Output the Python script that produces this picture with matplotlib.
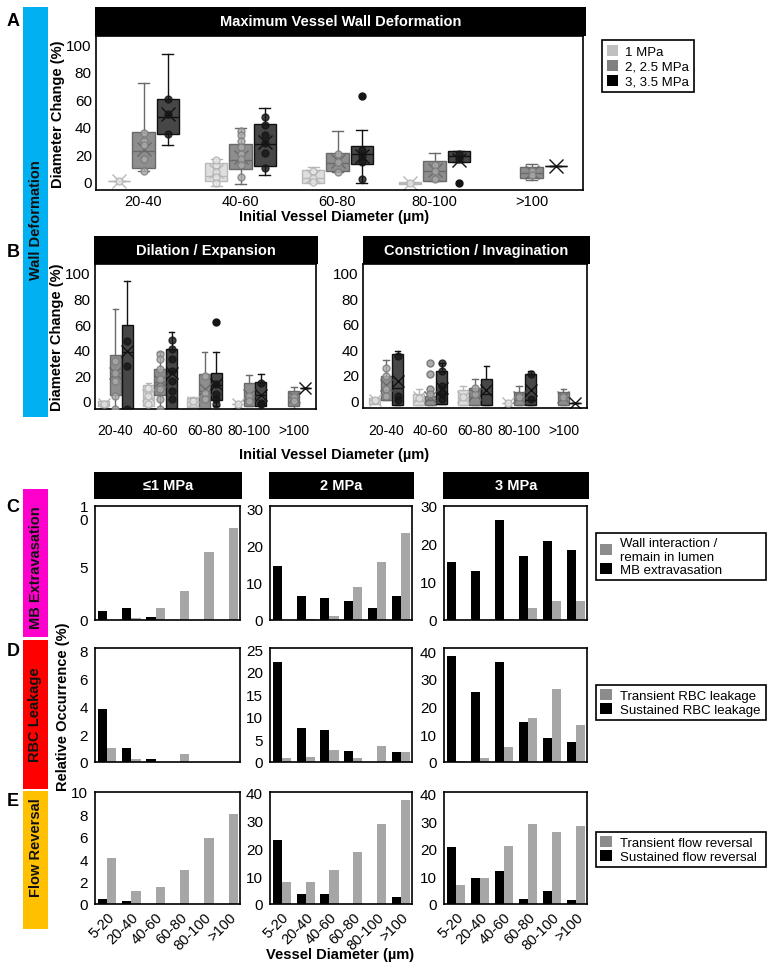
import numpy as np
import matplotlib
matplotlib.use("Agg")
import matplotlib.pyplot as plt
from matplotlib.patches import Patch, Rectangle

plt.rcParams['font.family'] = ['Liberation Sans', 'DejaVu Sans']

W, H = 773, 970
fig = plt.figure(figsize=(W / 100, H / 100), dpi=100)

nan = np.nan
# ---------------- data ----------------
size_groups = ["20-40", "40-60", "60-80", "80-100", ">100"]
pressures = ["1 MPa", "2, 2.5 MPa", "3, 3.5 MPa"]

# Panel A: maximum vessel wall deformation (rows: 1, 2/2.5, 3/3.5 MPa)
a_q1 = [[1, 0.7, -0.7, -1.5, nan], [10.5, 9.5, 8, 0.5, 3], [34.5, 11.5, 13, 14.5, 11.6]]
a_med = [[1, 4, 3, -0.7, nan], [22.4, 16, 14, 8, 6.7], [47, 27.7, 20, 19, 11.6]]
a_q3 = [[1, 13.5, 9, 0, nan], [36.5, 27.5, 21, 15, 10.8], [59.8, 41.7, 26, 22.4, 11.6]]
a_lo = [[1, -3, -0.7, -1.5, nan], [8, -1.7, 7, 0.5, 1.5], [27, 4.8, -1, 14.5, 11.6]]
a_hi = [[1, 16.5, 10.8, 0, nan], [71.5, 39, 37, 21, 12.8], [93, 53.5, 38, 22.4, 11.6]]
a_mean = [[1, 8, 4, -0.7, nan], [24, 18, 15, 9, 7], [49, 29, 19, 16, 11.6]]
a_out = [[[], [], [], [], []], [[], [], [], [], []], [[], [], [62], [-1], []]]
a_pts = [[[1], [12, 7, 3.6, -1, 16], [8, 3, 0], [-1], []],
         [[35.7, 30, 26.5, 17, 8], [37, 33.7, 30, 25, 20, 17, 12, 3.6], [20.5, 14.5, 7], [12, 8, 2.4], [8, 5]],
         [[60, 49, 34.5], [47, 41, 34, 28, 21, 10], [23, 19, 14.5, 2.4], [20, 17], []]]

# Panel B: dilation / expansion
bd_q1 = [[-4, -4, -5, -2, nan], [5, 4.7, -6, -4, -4], [-6, -6, 0.8, -4, 10.4]]
bd_med = [[-2, 2, -1, -2, nan], [21.7, 15, 8, 4, 3], [38, 23.5, 12.5, 5, 10.4]]
bd_q3 = [[0, 12.3, 2, -2, nan], [36, 25.3, 21, 13.8, 7.8], [59.5, 41, 22, 15, 10.4]]
bd_lo = [[-4, -4, -5, -2, nan], [-6, -6, -6, -4, -6], [-6, -6, -4, -6, 10.4]]
bd_hi = [[0, 14.4, 3, -2, nan], [72, 38, 38, 20.4, 11.2], [94, 53.5, 38.6, 21.4, 10.4]]
bd_mean = [[-2, 5, -1, -2, nan], [22, 16, 9, 5, 3], [39, 22, 13, 5, 10.4]]
bd_out = [[[], [], [], [], []], [[], [], [], [], []], [[], [], [62], [], []]]
bd_pts = [[[-2], [10.4, 4, -2.6], [0], [-2], []],
          [[31, 22, 15.6, 4, -6], [36.5, 32.6, 24.8, 17, 9, 1.3, -6], [19.6, 6.5, 1.3], [4, 0], [3, 0]],
          [[47, 27, -6], [47.8, 40.5, 32.6, 23.5, 15.7, 7.8, 1.3], [13.6, 5.2, 1.3, -2.6], [14.4, -1.3, -2.6], []]]

# Panel B: constriction / invagination
bc_q1 = [[-3, -4, -4, -2, nan], [0, -4, -4, -4, -3.7], [-4, -3, -4, -4, -2]]
bc_med = [[0, 0, 2, -2, nan], [8, 0, 3, 2, 3], [10, 5, 5, 0, -2]]
bc_q3 = [[2, 4.7, 8, -2, nan], [19, 3.4, 10, 6.6, 6.6], [36, 23, 17, 21, -2]]
bc_lo = [[-3, -4, -4, -2, nan], [0, -4, -4, -4, -3.7], [-4, -3, -4, -4, -2]]
bc_hi = [[2, 9, 11.3, -2, nan], [32, 6, 17, 11.3, 9], [39, 29, 27, 23, -2]]
bc_mean = [[0, 3, 3, -2, nan], [12, 3, 5, 3, 3], [15, 10, 8, 8, -2]]
bc_out = [[[], [], [], [], []], [[], [29.7, 20.5, 9.2], [], [], []], [[], [], [], [], []]]
bc_pts = [[[0], [2], [3], [-2], []],
          [[25.7, 19, 8.7, 3.4], [4.7], [5, 10], [3], [3]],
          [[35, 3.4, 0], [29, 23, 11, 4.7, 0.8], [], [20.5, 1.3], []]]

# Panels C-E: relative occurrence (%) per vessel diameter bin (rows: <=1, 2, 3 MPa)
diam_bins = ["5-20", "20-40", "40-60", "60-80", "80-100", ">100"]
col_titles = ["≤1 MPa", "2 MPa", "3 MPa"]
mb_sust = [[0.87, 1.15, 0.3, 0, 0, 0], [14.7, 6.4, 5.9, 5.0, 3.3, 6.4], [15.2, 12.9, 26.3, 16.8, 20.9, 18.3]]
mb_trans = [[0, 0.15, 1.15, 2.7, 6.3, 8.6], [0, 0.3, 1.1, 9.0, 15.7, 23.6], [0, 0, 0.3, 3.2, 4.9, 4.9]]
rbc_sust = [[3.77, 1.03, 0.24, 0, 0, 0], [22.2, 7.6, 7.1, 2.5, 0, 2.2], [38.2, 25.3, 36.1, 14.4, 8.8, 7.1]]
rbc_trans = [[1.03, 0.24, 0.02, 0.6, 0, 0], [0.9, 1.1, 2.7, 0.9, 3.6, 2.2], [0.5, 1.4, 5.3, 15.8, 26.5, 13.5]]
flow_sust = [[0.44, 0.27, 0, 0, 0, 0], [22.9, 3.6, 3.6, 0, 0, 2.5], [20.6, 9.5, 11.9, 1.8, 4.8, 1.3]]
flow_trans = [[4.15, 1.16, 1.54, 3.08, 5.93, 8.0], [7.8, 7.8, 12.4, 18.6, 28.8, 37.6], [6.9, 9.5, 21, 28.9, 26, 28.1]]

row_ylims = [[10.6, 30.8, 30], [8.15, 25.3, 41.2], [10, 40.3, 40.5]]
row_yticks = [[[0, 5, 10], [0, 10, 20, 30], [0, 10, 20, 30]],
              [[0, 2, 4, 6, 8], [0, 5, 10, 15, 20, 25], [0, 10, 20, 30, 40]],
              [[0, 2, 4, 6, 8, 10], [0, 10, 20, 30, 40], [0, 10, 20, 30, 40]]]
legend_labels = [["Wall interaction /\nremain in lumen", "MB extravasation"],
                 ["Transient RBC leakage", "Sustained RBC leakage"],
                 ["Transient flow reversal", "Sustained flow reversal"]]

# ---------------- styles ----------------
box_fill = ['#dedede', '#8e8e8e', '#474747']
box_edge = ['#b8b8b8', '#6a6a6a', '#111111']
pt_face = ['#e6e6e6', '#ababab', '#151515']
pt_edge = ['#b0b0b0', '#7a7a7a', '#151515']
leg_cols = ['#c0c0c0', '#808080', '#000000']
BAR_GRAY = '#a6a6a6'
LAB_FS = 10.5


def px_axes(x0, y0, x1, y1):
    return fig.add_axes([x0 / W, 1 - y1 / H, (x1 - x0) / W, (y1 - y0) / H])


def rect(x0, y0, x1, y1, color):
    fig.add_artist(Rectangle((x0 / W, 1 - y1 / H), (x1 - x0) / W, (y1 - y0) / H,
                             transform=fig.transFigure, facecolor=color, edgecolor='none'))


def header(x0, y0, x1, y1, text):
    rect(x0, y0, x1, y1, 'black')
    fig.text((x0 + x1) / 2 / W, 1 - (y0 + y1) / 2 / H, text, color='white', ha='center',
             va='center', fontweight='bold', fontsize=10.5)


def style_axes(ax, fs=11):
    for s in ax.spines.values():
        s.set_linewidth(1.2)
        s.set_color('black')
    ax.tick_params(length=0, labelsize=fs, pad=3)


def draw_boxes(ax, q1, med, q3, lo, hi, mean, outl, pts, offs, width, msize):
    for p in range(3):
        stats, pos = [], []
        for g in range(len(size_groups)):
            if np.isnan(med[p][g]):
                continue
            stats.append(dict(q1=q1[p][g], med=med[p][g], q3=q3[p][g], whislo=lo[p][g],
                              whishi=hi[p][g], mean=mean[p][g], fliers=outl[p][g]))
            pos.append(g + offs[p])
        ax.bxp(stats, positions=pos, widths=width, patch_artist=True, showmeans=True,
               showfliers=True, manage_ticks=False,
               boxprops=dict(facecolor=box_fill[p], edgecolor=box_edge[p], linewidth=1),
               medianprops=dict(color=box_edge[p], linewidth=1),
               whiskerprops=dict(color=box_edge[p], linewidth=1),
               capprops=dict(color=box_edge[p], linewidth=1),
               meanprops=dict(marker='x', markeredgecolor=box_edge[p], markersize=msize,
                              markeredgewidth=1),
               flierprops=dict(marker='o', markerfacecolor=pt_face[p], markeredgecolor=pt_edge[p],
                               markersize=5))
        for g in range(len(size_groups)):
            if pts[p][g]:
                ax.plot([g + offs[p]] * len(pts[p][g]), pts[p][g], 'o', ms=5,
                        mfc=pt_face[p], mec=pt_edge[p], alpha=0.8, zorder=4)
    ax.set_xticks(range(len(size_groups)))
    ax.set_xticklabels(size_groups)
    ax.set_yticks([0, 20, 40, 60, 80, 100])


# ---------------- side bands ----------------
rect(23, 8, 48, 418, '#00B0F0')
rect(23, 490, 48, 638, '#FF00CC')
rect(23, 641, 48, 790, '#FF0000')
rect(23, 792, 48, 930, '#FFC000')
band_txt = [("Wall Deformation", 220), ("MB Extravasation", 568),
            ("RBC Leakage", 715), ("Flow Reversal", 848)]
for t, yc in band_txt:
    fig.text(35.5 / W, 1 - yc / H, t, rotation=90, ha='center', va='center',
             fontweight='bold', fontsize=10.5, color='#111111')
for lt, yc in [("A", 22), ("B", 253), ("C", 508), ("D", 652), ("E", 802)]:
    fig.text(13 / W, 1 - yc / H, lt, ha='center', va='center', fontweight='bold', fontsize=13)

# ---------------- Panel A ----------------
axA = px_axes(96, 37, 583, 191)
header(95, 8, 586, 37, "Maximum Vessel Wall Deformation")
draw_boxes(axA, a_q1, a_med, a_q3, a_lo, a_hi, a_mean, a_out, a_pts, [-0.25, 0, 0.25], 0.23, 10)
axA.set_xlim(-0.49, 4.53)
axA.set_ylim(-5.8, 105.8)
style_axes(axA, 11)
axA.tick_params(axis='x', labelsize=10.5, pad=3)
axA.set_ylabel("Diameter Change (%)", fontweight='bold', fontsize=LAB_FS, labelpad=1)
fig.text(334 / W, 1 - 217 / H, "Initial Vessel Diameter (µm)", ha='center', va='center',
         fontweight='bold', fontsize=LAB_FS)
legA = fig.legend([Patch(facecolor=c, edgecolor='none') for c in leg_cols], pressures,
                  loc='upper left', bbox_to_anchor=(602 / W, 1 - 41 / H), frameon=True,
                  fancybox=False, edgecolor='black', framealpha=1, borderaxespad=0,
                  handlelength=0.9, handleheight=0.9, handletextpad=0.5, labelspacing=0.15,
                  borderpad=0.35, fontsize=9.5)
legA.get_frame().set_linewidth(1.2)

# ---------------- Panel B ----------------
axBL = px_axes(95, 265, 316, 410)
header(94, 237, 318, 265, "Dilation / Expansion")
draw_boxes(axBL, bd_q1, bd_med, bd_q3, bd_lo, bd_hi, bd_mean, bd_out, bd_pts,
           [-0.26, 0, 0.26], 0.25, 9)
axBL.set_xlim(-0.46, 4.5)
axBL.set_ylim(-6.25, 107)
style_axes(axBL, 11)
axBL.tick_params(axis='x', labelsize=10, pad=10)
axBL.set_ylabel("Diameter Change (%)", fontweight='bold', fontsize=LAB_FS, labelpad=1)

axBR = px_axes(363, 265, 587, 409)
header(363, 237, 590, 265, "Constriction / Invagination")
draw_boxes(axBR, bc_q1, bc_med, bc_q3, bc_lo, bc_hi, bc_mean, bc_out, bc_pts,
           [-0.26, 0, 0.26], 0.25, 9)
axBR.set_xlim(-0.52, 4.53)
axBR.set_ylim(-6.0, 107)
style_axes(axBR, 11)
axBR.tick_params(axis='x', labelsize=10, pad=11)
fig.text(334 / W, 1 - 455 / H, "Initial Vessel Diameter (µm)", ha='center', va='center',
         fontweight='bold', fontsize=LAB_FS)

# ---------------- Panels C-E ----------------
col_x = [(95, 240), (270, 412), (444, 587)]
row_y = [(507, 621), (649, 763), (793, 905)]
row_data = [(mb_sust, mb_trans), (rbc_sust, rbc_trans), (flow_sust, flow_trans)]
legend_boxes = [(596, 534, 766, 582), (596, 686, 766, 720), (596, 833, 766, 867)]
x = np.arange(len(diam_bins))
bw = 0.38
for r in range(3):
    sust, trans = row_data[r]
    for c in range(3):
        ax = px_axes(col_x[c][0], row_y[r][0], col_x[c][1], row_y[r][1])
        ax.bar(x - bw / 2, sust[c], width=bw, color='black')
        ax.bar(x + bw / 2, trans[c], width=bw, color=BAR_GRAY)
        ax.set_xlim(-0.5, 5.47)
        ax.set_ylim(0, row_ylims[r][c])
        ax.set_yticks(row_yticks[r][c])
        style_axes(ax, 11)
        ax.tick_params(axis='y', pad=5)
        if r == 0 and c == 0:
            ax.set_yticklabels(['0', '5', '1\n0'])
            for t in ax.get_yticklabels():
                t.set_linespacing(0.95)
        ax.set_xticks(x)
        if r == 2:
            ax.set_xticklabels(diam_bins, rotation=45, ha='right', rotation_mode='anchor',
                               fontsize=10.5)
            ax.tick_params(axis='x', pad=4)
        else:
            ax.set_xticklabels([])
        if r == 0:
            header(col_x[c][0] - 1, 473, col_x[c][1] + 2, 500, col_titles[c])
    lx0, ly0, lx1, ly1 = legend_boxes[r]
    leg = fig.legend([Patch(facecolor='#8c8c8c', edgecolor='none'),
                      Patch(facecolor='black', edgecolor='none')], legend_labels[r],
                     loc='upper left', mode='expand',
                     bbox_to_anchor=(lx0 / W, 1 - ly1 / H, (lx1 - lx0) / W, (ly1 - ly0) / H),
                     frameon=True, fancybox=False, edgecolor='black', framealpha=1,
                     borderaxespad=0, handlelength=0.9, handleheight=0.9, handletextpad=0.6,
                     labelspacing=0.05, borderpad=0.3, fontsize=9.5)
    leg.get_frame().set_linewidth(1.2)

fig.text(63 / W, 1 - 707 / H, "Relative Occurrence (%)", rotation=90, ha='center', va='center',
         fontweight='bold', fontsize=LAB_FS)
fig.text(340 / W, 1 - 955 / H, "Vessel Diameter (µm)", ha='center', va='center',
         fontweight='bold', fontsize=LAB_FS)

fig.savefig("out.png", dpi=100)
